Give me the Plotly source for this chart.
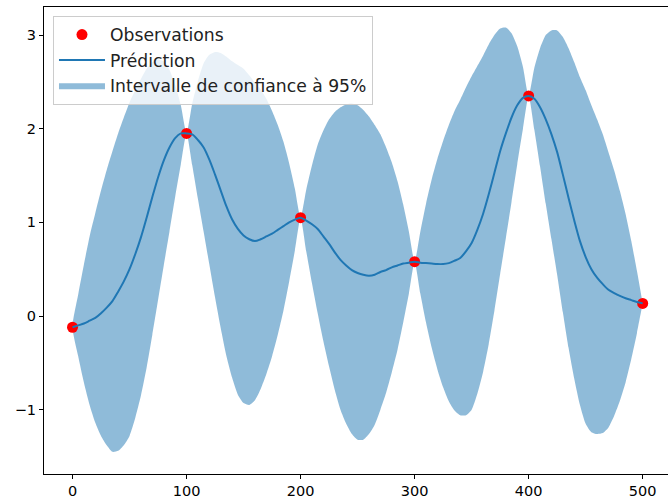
import plotly.graph_objects as go

# Observations
obs_x = [0, 100, 200, 300, 400, 500]
obs_y = [-0.12, 1.95, 1.05, 0.58, 2.35, 0.135]

# Prediction grid (step 5)
grid_x = list(range(0, 505, 5))

pred_y = [
    -0.12, -0.10, -0.08, -0.05, -0.02, 0.03, 0.09, 0.16, 0.26, 0.37, 0.50,
    0.66, 0.84, 1.05, 1.27, 1.48, 1.66, 1.80, 1.90, 1.95, 1.95,
    1.94, 1.88, 1.80, 1.67, 1.51, 1.34, 1.17, 1.03, 0.93, 0.86,
    0.82, 0.80, 0.82, 0.85, 0.88, 0.92, 0.96, 1.00, 1.03, 1.05,
    1.02, 0.98, 0.93, 0.85, 0.77, 0.68, 0.60, 0.54, 0.49, 0.46,
    0.44, 0.43, 0.44, 0.47, 0.49, 0.52, 0.54, 0.56, 0.57, 0.58,
    0.57, 0.565, 0.56, 0.555, 0.555, 0.565, 0.59, 0.62, 0.69, 0.78,
    0.92, 1.09, 1.30, 1.53, 1.76, 1.95, 2.12, 2.25, 2.33, 2.35,
    2.32, 2.23, 2.10, 1.94, 1.75, 1.51, 1.26, 1.02, 0.80, 0.63,
    0.50, 0.41, 0.34, 0.28, 0.245, 0.215, 0.19, 0.17, 0.15, 0.135,
]

upper_y = [
    -0.12, 0.23, 0.55, 0.85, 1.10, 1.34, 1.56, 1.76, 1.95, 2.12, 2.28,
    2.41, 2.53, 2.64, 2.71, 2.74, 2.72, 2.63, 2.47, 2.25, 1.95,
    2.27, 2.51, 2.70, 2.79, 2.82, 2.81, 2.77, 2.72, 2.68, 2.64,
    2.57, 2.49, 2.42, 2.32, 2.19, 2.04, 1.86, 1.63, 1.36, 1.05,
    1.35, 1.61, 1.83, 1.98, 2.10, 2.18, 2.23, 2.26, 2.27, 2.25,
    2.20, 2.13, 2.04, 1.94, 1.80, 1.64, 1.44, 1.19, 0.90, 0.58,
    0.90, 1.20, 1.46, 1.68, 1.87, 2.04, 2.19, 2.31, 2.44, 2.56,
    2.67, 2.78, 2.90, 3.00, 3.07, 3.08, 3.02, 2.88, 2.66, 2.35,
    2.65, 2.86, 3.00, 3.05, 3.05, 2.98, 2.86, 2.71, 2.55, 2.41,
    2.25, 2.10, 1.94, 1.75, 1.555, 1.335, 1.09, 0.80, 0.48, 0.135,
]

lower_y = [
    -0.12, -0.43, -0.71, -0.95, -1.14, -1.28, -1.38, -1.45, -1.44, -1.38, -1.28,
    -1.09, -0.85, -0.55, -0.20, 0.17, 0.54, 0.90, 1.27, 1.62, 1.95,
    1.61, 1.25, 0.90, 0.55, 0.20, -0.13, -0.43, -0.66, -0.84, -0.93,
    -0.95, -0.90, -0.78, -0.62, -0.43, -0.20, 0.06, 0.37, 0.70, 1.05,
    0.69, 0.35, 0.03, -0.27, -0.54, -0.79, -1.00, -1.15, -1.26, -1.32,
    -1.32, -1.26, -1.16, -1.00, -0.82, -0.60, -0.36, -0.07, 0.24, 0.58,
    0.24, -0.07, -0.34, -0.57, -0.76, -0.91, -1.01, -1.06, -1.06, -1.00,
    -0.83, -0.60, -0.30, 0.06, 0.45, 0.83, 1.22, 1.62, 2.00, 2.35,
    1.99, 1.60, 1.20, 0.82, 0.44, 0.04, -0.34, -0.67, -0.95, -1.15,
    -1.24, -1.26, -1.25, -1.19, -1.065, -0.905, -0.71, -0.46, -0.18, 0.135,
]

x_ticks = [0, 100, 200, 300, 400, 500]
y_ticks = [-1, 0, 1, 2, 3]

FONT = "DejaVu Sans"

fig = go.Figure()

fig.add_trace(go.Scatter(
    x=grid_x + grid_x[::-1],
    y=upper_y + lower_y[::-1],
    fill="toself",
    fillcolor="rgba(31,119,180,0.5)",
    line=dict(width=0, shape="spline", smoothing=0.6),
    mode="lines",
    hoverinfo="skip",
    name="Intervalle de confiance à 95%",
    legendgroup="g3", legendrank=3,
))

fig.add_trace(go.Scatter(
    x=obs_x, y=obs_y, mode="markers",
    marker=dict(color="red", size=11),
    name="Observations",
    legendgroup="g1", legendrank=1,
))

fig.add_trace(go.Scatter(
    x=grid_x, y=pred_y, mode="lines",
    line=dict(color="#1f77b4", width=2, shape="spline", smoothing=0.8),
    name="Prédiction",
    legendgroup="g2", legendrank=2,
))

fig.update_layout(
    width=668, height=502,
    margin=dict(l=44, r=0, t=7, b=28),
    paper_bgcolor="white", plot_bgcolor="white",
    font=dict(family=FONT, size=14.5, color="black"),
    showlegend=True,
    legend=dict(
        x=0.0144, y=0.981, xanchor="left", yanchor="top",
        bgcolor="rgba(255,255,255,0.8)",
        bordercolor="#cccccc", borderwidth=1,
        font=dict(family=FONT, size=17.2, color="#222222"),
        traceorder="grouped", tracegroupgap=0,
        itemwidth=46,
    ),
    xaxis=dict(
        range=[-25, 522.2], tickvals=x_ticks,
        showgrid=False, zeroline=False,
        showline=True, linecolor="black", linewidth=1, mirror=True,
        ticks="outside", ticklen=4, tickcolor="black",
    ),
    yaxis=dict(
        range=[-1.687, 3.30], tickvals=y_ticks,
        showgrid=False, zeroline=False,
        showline=True, linecolor="black", linewidth=1,
        ticks="outside", ticklen=4, tickcolor="black",
    ),
)

fig.write_html("out.html")
